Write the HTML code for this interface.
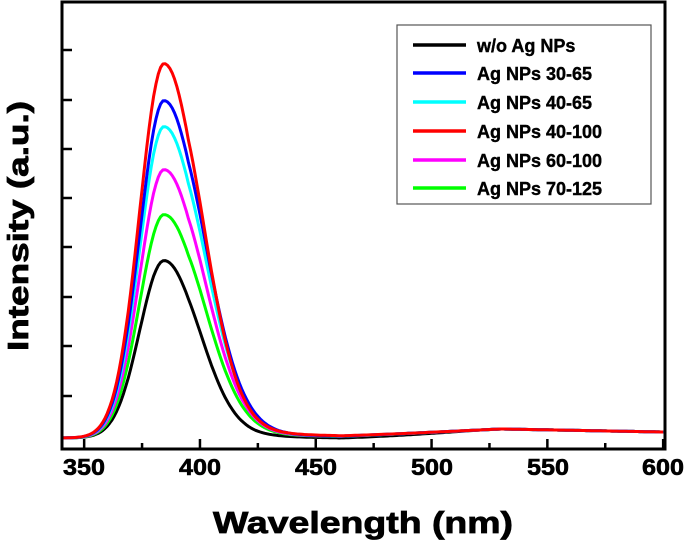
<!DOCTYPE html>
<html><head><meta charset="utf-8"><style>
html,body{margin:0;padding:0;background:#fff;}
svg{display:block;font-family:"Liberation Sans",Arial,sans-serif;font-weight:bold;}
</style></head><body>
<svg id="s" width="685" height="544" viewBox="0 0 685 544" xmlns="http://www.w3.org/2000/svg">
<rect x="0" y="0" width="685" height="544" fill="#fff"/>
<g id="curves" fill="none" stroke-width="3" stroke-linejoin="round"></g>
<rect x="62" y="2" width="603" height="447" fill="none" stroke="#000" stroke-width="3"/>
<g stroke="#000" stroke-width="2.5">
<line x1="62" y1="50" x2="72" y2="50"/><line x1="62" y1="100" x2="72" y2="100"/>
<line x1="62" y1="149" x2="72" y2="149"/><line x1="62" y1="198" x2="72" y2="198"/>
<line x1="62" y1="247" x2="72" y2="247"/><line x1="62" y1="297" x2="72" y2="297"/>
<line x1="62" y1="346" x2="72" y2="346"/><line x1="62" y1="396" x2="72" y2="396"/>
</g>
<g id="xt" stroke="#000" stroke-width="2.5"></g>
<g font-size="23" text-anchor="middle" fill="#000" stroke="#000" stroke-width="0.6">
<text x="84" y="475" textLength="42" lengthAdjust="spacingAndGlyphs">350</text><text x="200" y="475" textLength="42" lengthAdjust="spacingAndGlyphs">400</text><text x="316" y="475" textLength="42" lengthAdjust="spacingAndGlyphs">450</text>
<text x="432" y="475" textLength="42" lengthAdjust="spacingAndGlyphs">500</text><text x="548" y="475" textLength="42" lengthAdjust="spacingAndGlyphs">550</text><text x="663" y="475" textLength="42" lengthAdjust="spacingAndGlyphs">600</text>
</g>
<text x="363" y="533" font-size="31" text-anchor="middle" stroke="#000" stroke-width="0.8" textLength="300" lengthAdjust="spacingAndGlyphs">Wavelength (nm)</text>
<text transform="translate(28,226) rotate(-90)" font-size="29" text-anchor="middle" stroke="#000" stroke-width="0.8" textLength="250" lengthAdjust="spacingAndGlyphs">Intensity (a.u.)</text>
<rect x="397" y="25" width="254" height="179" fill="#fff" stroke="#555" stroke-width="1.2"/>
<g stroke-width="3.5">
<line x1="413" y1="45" x2="466" y2="45" stroke="#000"/>
<line x1="413" y1="73" x2="466" y2="73" stroke="#0000ff"/>
<line x1="413" y1="102" x2="466" y2="102" stroke="#00ffff"/>
<line x1="413" y1="131" x2="466" y2="131" stroke="#ff0000"/>
<line x1="413" y1="160" x2="466" y2="160" stroke="#ff00ff"/>
<line x1="413" y1="188" x2="466" y2="188" stroke="#00ff00"/>
</g>
<g font-size="18" fill="#000" stroke="#000" stroke-width="0.4">
<text x="477" y="52">w/o Ag NPs</text>
<text x="477" y="80">Ag NPs 30-65</text>
<text x="477" y="109">Ag NPs 40-65</text>
<text x="477" y="138">Ag NPs 40-100</text>
<text x="477" y="167">Ag NPs 60-100</text>
<text x="477" y="195">Ag NPs 70-125</text>
</g>
</svg>
<script>
(function(){
var ns="http://www.w3.org/2000/svg";
function X(l){return 61+(l-340)*2.316;}
var xt=document.getElementById('xt');
for(var l=350;l<=600;l+=25){var ln=document.createElementNS(ns,'line');
ln.setAttribute('x1',X(l));ln.setAttribute('x2',X(l));ln.setAttribute('y1',449);ln.setAttribute('y2',l%50==0?439:443);xt.appendChild(ln);}
function base(l,black){
 var b;
 if(l<460) b=438-(l-340)*0.01;
 else if(l<530) b=437-(l-460)/70*8;
 else b=429+(l-530)/70*3;
 if(black && l>430 && l<520) b+=1.5*Math.sin((l-430)/90*Math.PI);
 return b;}
function shape(l,sr,tail){
 var d=l-384.5, s=d<0?10.5:sr;
 var g=Math.exp(-d*d/(2*s*s));
 var t=0; if(l>395){var e=(l-395); t=tail*Math.exp(-e/22)*(1-Math.exp(-e/8));}
 return g+t;}
var series=[
 ["#000",177,15,0.03],
 ["#00ff00",223,16.5,0.05],
 ["#ff00ff",268,16.5,0.05],
 ["#00ffff",311,16.5,0.05],
 ["#0000ff",337,16.5,0.05],
 ["#ff0000",374,15.5,0.06]];
var g=document.getElementById('curves');
series.forEach(function(s){
 var d="";
 for(var l=340;l<=600;l+=1){
  var b=base(l,s[0]=="#000");
  var y=b-s[1]*shape(l,s[2],s[3]);
  d+=(l==340?"M":"L")+X(l).toFixed(1)+" "+y.toFixed(1);
 }
 var p=document.createElementNS(ns,'path');p.setAttribute('d',d);p.setAttribute('stroke',s[0]);g.appendChild(p);
});
})();
</script>
</body></html>
